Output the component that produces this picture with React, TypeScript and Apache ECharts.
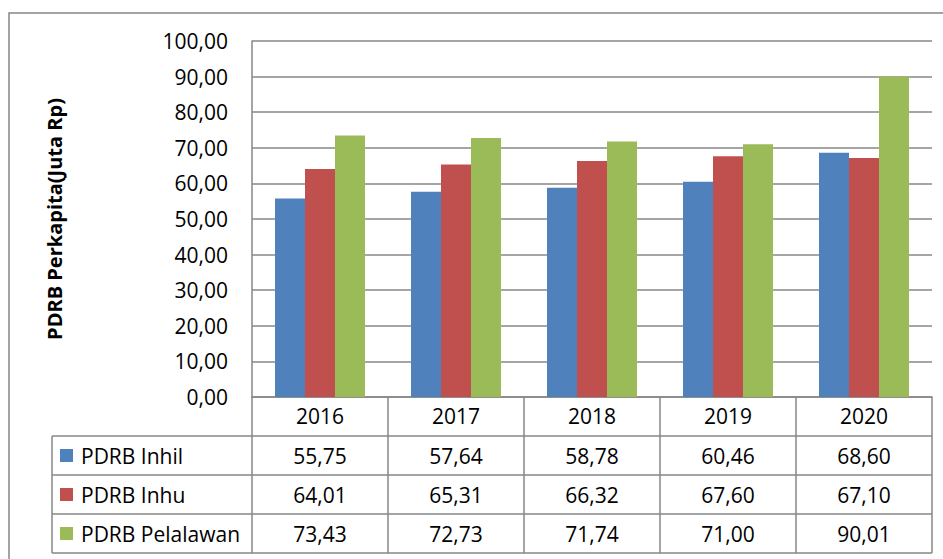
import React, { useEffect, useRef } from "react";
import * as echarts from "echarts";

const categories = ["2016", "2017", "2018", "2019", "2020"];
const seriesNames = ["PDRB Inhil", "PDRB Inhu", "PDRB Pelalawan"];
const inhil = [55.75, 57.64, 58.78, 60.46, 68.6];
const inhu = [64.01, 65.31, 66.32, 67.6, 67.1];
const pelalawan = [73.43, 72.73, 71.74, 71.0, 90.01];
const colors = ["#4F81BD", "#C0504D", "#9BBB59"];

const FONT = "Open Sans";
const GRID = "#878787";
const fmt = (v: number) => v.toFixed(2).replace(".", ",");

export default function App() {
  const ref = useRef<HTMLDivElement>(null);
  useEffect(() => {
    document.body.style.margin = "0";
    const chart = echarts.init(ref.current!, null, { renderer: "svg" });
    const allSeries = [inhil, inhu, pelalawan];
    const rowH = 39;
    const tableLeft = 52;

    const renderTable = (params: any, api: any) => {
      const i = api.value(0) as number;
      const pt = api.coord([i, 0]);
      const w = api.size([1, 0])[0];
      const x0 = pt[0] - w / 2;
      const x1 = pt[0] + w / 2;
      const y0 = pt[1];
      const line = { stroke: GRID, lineWidth: 1.5 };
      const children: any[] = [];
      children.push({ type: "line", shape: { x1, y1: y0, x2: x1, y2: y0 + 4 * rowH }, style: line });
      if (i === 0) {
        children.push({ type: "line", shape: { x1: x0, y1: y0, x2: x0, y2: y0 + 4 * rowH }, style: line });
        children.push({ type: "line", shape: { x1: tableLeft, y1: y0 + rowH, x2: tableLeft, y2: y0 + 4 * rowH }, style: line });
        for (let r = 1; r <= 4; r++) {
          children.push({ type: "line", shape: { x1: tableLeft, y1: y0 + r * rowH, x2: x0, y2: y0 + r * rowH }, style: line });
        }
        seriesNames.forEach((n, s) => {
          const cy = y0 + (s + 1) * rowH + rowH / 2;
          children.push({ type: "rect", shape: { x: tableLeft + 8, y: cy - 6.5, width: 13, height: 13 }, style: { fill: colors[s] } });
          children.push({
            type: "text",
            style: { text: n, x: tableLeft + 29, y: cy, fill: "#000", font: `21px "${FONT}"`, align: "left", verticalAlign: "middle" },
          });
        });
      }
      for (let r = 1; r <= 4; r++) {
        children.push({ type: "line", shape: { x1: x0, y1: y0 + r * rowH, x2: x1, y2: y0 + r * rowH }, style: line });
      }
      allSeries.forEach((vals, s) => {
        const cy = y0 + (s + 1) * rowH + rowH / 2;
        children.push({
          type: "text",
          style: { text: fmt(vals[i]), x: pt[0], y: cy, fill: "#000", font: `21px "${FONT}"`, align: "center", verticalAlign: "middle" },
        });
      });
      return { type: "group", children };
    };

    chart.setOption({
      animation: false,
      backgroundColor: "#fff",
      textStyle: { fontFamily: FONT },
      graphic: [
        {
          type: "rect",
          shape: { x: 9, y: 13, width: 1000, height: 600 },
          style: { fill: "none", stroke: GRID, lineWidth: 1.5 },
          silent: true,
        },
      ],
      grid: { left: 252, right: 11, top: 41, bottom: 162, containLabel: false },
      xAxis: {
        type: "category",
        data: categories,
        axisLine: { show: true, lineStyle: { color: GRID, width: 1.5 } },
        axisTick: { show: false },
        axisLabel: { color: "#000", fontSize: 21, fontFamily: FONT, margin: 19, verticalAlign: "middle" },
      },
      yAxis: {
        type: "value",
        min: 0,
        max: 100,
        interval: 10,
        name: "PDRB Perkapita(Juta Rp)",
        nameLocation: "middle",
        nameGap: 188,
        nameRotate: 90,
        nameTextStyle: { color: "#000", fontSize: 20, fontWeight: "bold", fontFamily: FONT },
        axisLine: { show: true, lineStyle: { color: GRID, width: 1.5 } },
        axisTick: { show: false },
        axisLabel: { color: "#000", fontSize: 21, fontFamily: FONT, margin: 24, formatter: (v: number) => fmt(v) },
        splitLine: { show: true, lineStyle: { color: GRID, width: 1.5 } },
      },
      series: [
        ...allSeries.map((vals, s) => ({
          type: "bar",
          name: seriesNames[s],
          data: vals,
          barWidth: 30,
          barGap: "0%",
          itemStyle: { color: colors[s] },
        })),
        {
          type: "custom",
          name: "table",
          renderItem: renderTable,
          data: categories.map((_, i) => [i, 0]),
          encode: { x: 0, y: 1 },
          clip: false,
          silent: true,
          z: 10,
        },
      ],
    });
    return () => chart.dispose();
  }, []);
  return <div ref={ref} style={{ position: "fixed", left: 0, top: 0, width: 943, height: 559 }} />;
}
